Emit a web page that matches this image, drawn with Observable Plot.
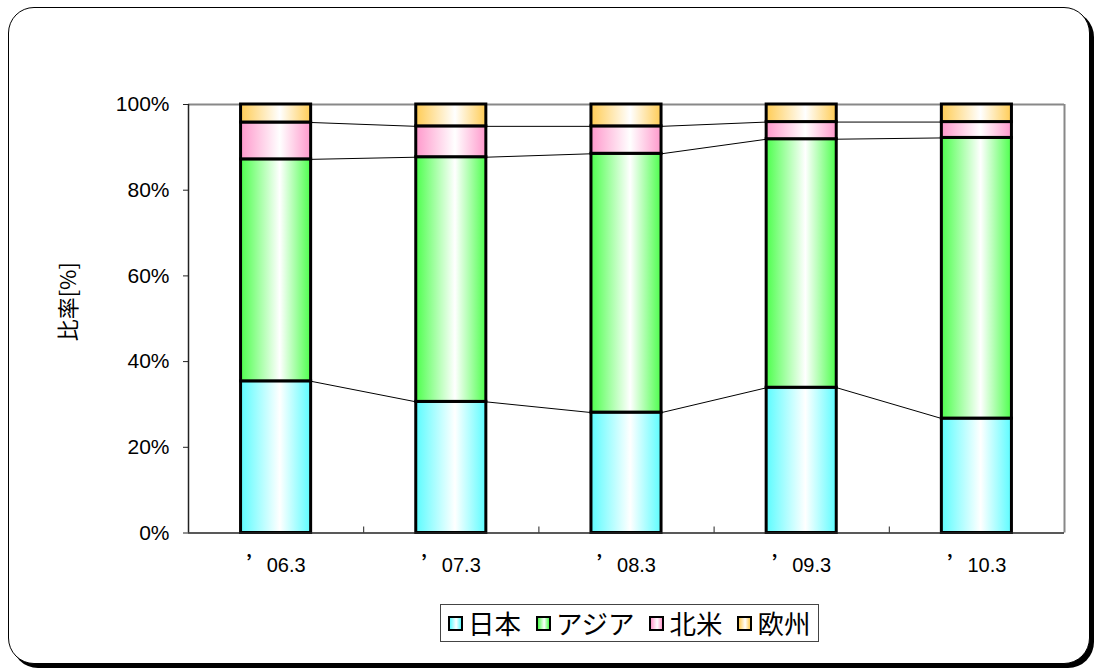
<!DOCTYPE html>
<html><head><meta charset="utf-8">
<script src="https://cdn.jsdelivr.net/npm/d3@7"></script>
<script src="https://cdn.jsdelivr.net/npm/@observablehq/plot@0.6"></script>
<style>
body{margin:0;background:#fff;width:1094px;height:669px;overflow:hidden;font-family:"Noto Sans CJK JP",sans-serif;position:relative;}
#frame{position:absolute;left:8px;top:7px;width:1080px;height:655px;border:1.5px solid #000;border-radius:26px;box-shadow:4px 4px 0 #000;background:#fff;}
#chart{position:absolute;left:0;top:0;}
#legend{position:absolute;left:440px;top:604px;height:36px;border:1px solid #444;display:flex;align-items:center;padding:0 8px 0 7px;font-size:26.5px;line-height:1;color:#000;background:#fff;}
.item{display:flex;align-items:center;margin-right:15px;}
.item:last-child{margin-right:0;}
.sw{width:11px;height:11px;border:2px solid #000;margin-right:5px;}
</style>
</head><body>
<div id="frame"></div>
<div id="chart"></div>
<div id="legend"></div>
<script>
// ---- data ----
const categories = ["’06.3", "’07.3", "’08.3", "’09.3", "’10.3"];
const regions = ["日本", "アジア", "北米", "欧州"];
const japan  = [35.4, 30.6, 28.1, 33.9, 26.7];
const asia   = [51.8, 57.1, 60.4, 58.0, 65.5];
const namer  = [8.6, 7.2, 6.4, 4.0, 3.7];
const europe = [4.2, 5.1, 5.1, 4.1, 4.1];
const yTicks = [0, 20, 40, 60, 80, 100];
const yLabel = "比率[%]";
const edgeColors = ["#5cfcff", "#4dff4d", "#ff99cc", "#ffcc55"];

// ---- build table ----
const series = [japan, asia, namer, europe];
const rows = [];
categories.forEach((c, i) => {
  let base = 0;
  series.forEach((s, k) => {
    rows.push({i, cat: c, k, region: regions[k], y1: base, y2: base + s[i]});
    base += s[i];
  });
});
const tops = series.map((s, k) => categories.map((c, i) => rows.find(r => r.i === i && r.k === k).y2));
const links = [];
for (let k = 0; k < 3; k++) {
  for (let i = 0; i < categories.length - 1; i++) {
    links.push({x1: i + 0.7, x2: i + 1.3, y1: tops[k][i], y2: tops[k][i + 1]});
  }
}
const centers = categories.map((c, i) => i + 0.5);
const boundaries = d3.range(1, categories.length);

const defs = () => {
  const d = d3.create("svg:defs");
  edgeColors.forEach((col, k) => {
    const g = d.append("linearGradient").attr("id", "g" + k).attr("x1", 0).attr("x2", 1).attr("y1", 0).attr("y2", 0);
    g.append("stop").attr("offset", 0).attr("stop-color", col);
    g.append("stop").attr("offset", 0.56).attr("stop-color", "#fff");
    g.append("stop").attr("offset", 1).attr("stop-color", col);
  });
  return d.node();
};

const numFont = "'Liberation Sans', Arial, sans-serif";
const chart = Plot.plot({
  width: 1094,
  height: 600,
  marginLeft: 188,
  marginRight: 30,
  marginTop: 104,
  marginBottom: 67.5,
  style: {background: "transparent", fontFamily: numFont, color: "#000", overflow: "visible"},
  x: {type: "linear", domain: [0, categories.length], axis: null},
  y: {domain: [0, 100], axis: null},
  marks: [
    defs,
    Plot.ruleY([100], {stroke: "#888", strokeWidth: 2}),
    Plot.ruleX([categories.length], {stroke: "#888", strokeWidth: 2}),
    Plot.link(links, {x1: "x1", y1: "y1", x2: "x2", y2: "y2", stroke: "#000", strokeWidth: 1}),
    Plot.rect(rows, {x1: d => d.i + 0.3, x2: d => d.i + 0.7, y1: "y1", y2: "y2", fill: d => `url(#g${d.k})`, stroke: "#000", strokeWidth: 3}),
    Plot.ruleX([0], {stroke: "#222", strokeWidth: 1.5}),
    Plot.ruleY([0], {stroke: "#222", strokeWidth: 1.5}),
    Plot.ruleX(boundaries, {y1: 0, y2: 0, insetBottom: 6, stroke: "#222", strokeWidth: 1}),
    Plot.axisY({ticks: yTicks, tickFormat: d => d + "%", tickSize: 5, tickPadding: 14, fontSize: 21, stroke: "#222", label: null}),
    Plot.axisX({ticks: centers, tickFormat: d => categories[Math.round(d - 0.5)], tickSize: 0, tickPadding: 25, fontSize: 20, label: null}),
    Plot.text([yLabel], {frameAnchor: "left", dx: -120, dy: -17, rotate: -90, textAnchor: "middle", fontSize: 22, fontFamily: "'Noto Sans CJK JP', sans-serif", fill: "#000"})
  ]
});
document.getElementById("chart").append(chart);

// full-width apostrophe in the x tick labels (text content unchanged)
d3.select(chart).selectAll("g[aria-label='x-axis tick label'] text").each(function() {
  const s = this.textContent;
  if (s[0] !== "’") return;
  const t = d3.select(this);
  t.text(null);
  t.append("tspan").style("font-family", "'Noto Sans CJK JP', sans-serif").style("font-feature-settings", "'fwid'").style("font-weight", "bold").text("’");
  t.append("tspan").text(s.slice(1));
});

// ---- legend ----
const leg = document.getElementById("legend");
regions.forEach((r, k) => {
  const it = document.createElement("div");
  it.className = "item";
  const sw = document.createElement("div");
  sw.className = "sw";
  sw.style.background = `linear-gradient(to right, ${edgeColors[k]}, #fff 56%, ${edgeColors[k]})`;
  const t = document.createElement("span");
  t.textContent = r;
  it.append(sw, t);
  leg.append(it);
});
</script>
</body></html>
